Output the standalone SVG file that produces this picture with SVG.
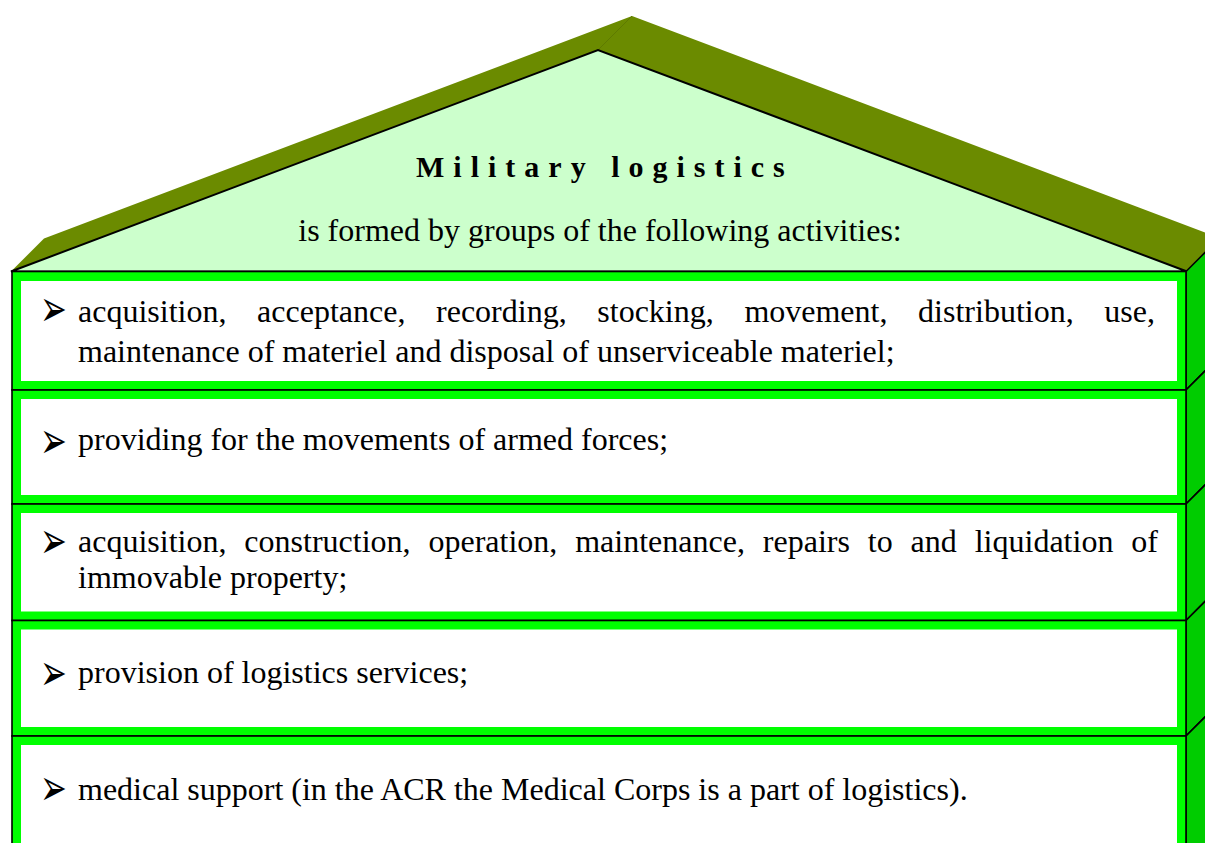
<svg xmlns="http://www.w3.org/2000/svg" width="1205" height="843" viewBox="0 0 1205 843">
<style>
.box{fill:#00FF00;stroke:#000;stroke-width:1.6}
.inner{fill:#FFFFFF}
.side{fill:#00CC00;stroke:#000;stroke-width:1.6}
.t{font-family:"Liberation Serif","Times New Roman",serif;font-size:32px;fill:#000}
.h{font-family:"Liberation Serif","Times New Roman",serif;font-size:30px;font-weight:bold;letter-spacing:9px;fill:#000}
.b{font-family:"DejaVu Sans",sans-serif;font-size:32px;fill:#000}
</style>
<rect width="1205" height="843" fill="#FFFFFF"/>
<g id="roof">
<polygon points="11,271.5 44,238.5 632,16 1221,238.5 1187,271.5 598,50" fill="#6B8B00"/>
<line x1="598" y1="50" x2="632" y2="16" stroke="#5E7A00" stroke-width="1"/>
<polygon points="11,271.5 598,50 1187,271.5" fill="#CCFFCC" stroke="#000" stroke-width="2"/>
<text class="h" x="416" y="177">Military logistics</text>
<text class="t" x="600" y="241" text-anchor="middle">is formed by groups of the following activities:</text>
</g>
<g id="box1">
<polygon class="side" points="1186,271.5 1220,237.5 1220,356 1186,390"/>
<rect class="box" x="12" y="271.5" width="1174" height="118.5"/>
<rect class="inner" x="21" y="281" width="1156" height="100"/>
<text class="b" x="0" y="0" transform="matrix(1,0,0,1.6,40,325.5)">➢</text>
<text class="t" y="322"><tspan x="78">acquisition,</tspan><tspan x="257.08">acceptance,</tspan><tspan x="436.06">recording,</tspan><tspan x="597.31">stocking,</tspan><tspan x="744.39">movement,</tspan><tspan x="918.12">distribution,</tspan><tspan x="1104.33">use,</tspan></text>
<text class="t" x="78" y="362">maintenance of materiel and disposal of unserviceable materiel;</text>
</g>
<g id="box2">
<polygon class="side" points="1186,390 1220,356 1220,470 1186,504"/>
<rect class="box" x="12" y="390" width="1174" height="114"/>
<rect class="inner" x="21" y="399" width="1156" height="96"/>
<text class="b" x="0" y="0" transform="matrix(1,0,0,1.6,40,457.5)">➢</text>
<text class="t" x="78" y="450">providing for the movements of armed forces;</text>
</g>
<g id="box3">
<polygon class="side" points="1186,504 1220,470 1220,586.5 1186,620.5"/>
<rect class="box" x="12" y="504" width="1174" height="116.5"/>
<rect class="inner" x="21" y="513" width="1156" height="98.5"/>
<text class="b" x="0" y="0" transform="matrix(1,0,0,1.6,40,557.5)">➢</text>
<text class="t" y="552"><tspan x="78">acquisition,</tspan><tspan x="244.35">construction,</tspan><tspan x="428.46">operation,</tspan><tspan x="575.22">maintenance,</tspan><tspan x="762.85">repairs</tspan><tspan x="867.82">to</tspan><tspan x="910.62">and</tspan><tspan x="974.73">liquidation</tspan><tspan x="1131.32">of</tspan></text>
<text class="t" x="78" y="588">immovable property;</text>
</g>
<g id="box4">
<polygon class="side" points="1186,620.5 1220,586.5 1220,702 1186,736"/>
<rect class="box" x="12" y="620.5" width="1174" height="115.5"/>
<rect class="inner" x="21" y="629.5" width="1156" height="97.5"/>
<text class="b" x="0" y="0" transform="matrix(1,0,0,1.6,40,689.5)">➢</text>
<text class="t" x="78" y="683">provision of logistics services;</text>
</g>
<g id="box5">
<polygon class="side" points="1186,736 1220,702 1220,860 1186,894"/>
<rect class="box" x="12" y="736" width="1174" height="150"/>
<rect class="inner" x="21" y="745" width="1156" height="130"/>
<text class="b" x="0" y="0" transform="matrix(1,0,0,1.6,40,804.5)">➢</text>
<text class="t" x="78" y="800">medical support (in the ACR the Medical Corps is a part of logistics).</text>
</g>
<g id="connectors"></g>
</svg>
